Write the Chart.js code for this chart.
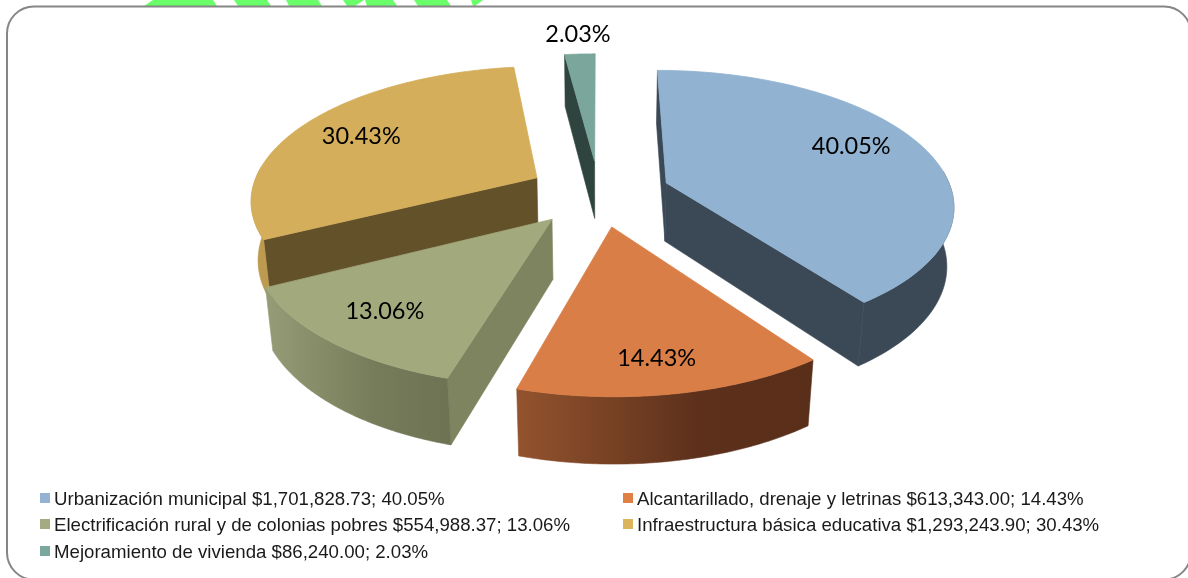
<!DOCTYPE html>
<html>
<head>
<meta charset="utf-8">
<style>
  html, body { margin: 0; padding: 0; background: #fff; }
  canvas { display: block; }
</style>
<script src="https://cdn.jsdelivr.net/npm/chart.js@4"></script>
</head>
<body>
<canvas id="pieChart" width="1188" height="578"></canvas>
<script>
// Data
const categories = [
  "Urbanización municipal",
  "Alcantarillado, drenaje y letrinas",
  "Electrificación rural y de colonias pobres",
  "Infraestructura básica educativa",
  "Mejoramiento de vivienda"
];
const amounts = [1701828.73, 613343.00, 554988.37, 1293243.90, 86240.00];
const amountLabels = ["$1,701,828.73", "$613,343.00", "$554,988.37", "$1,293,243.90", "$86,240.00"];
const percentLabels = ["40.05%", "14.43%", "13.06%", "30.43%", "2.03%"];

const topColors = ["#91b2d0", "#da7e48", "#a2a97d", "#d4ae5a", "#7aa69b"];
const cutColors = ["#3b4855", "#5a2f1a", "#7e8460", "#63512a", "#30443f"];
const rimStops = [
  [[0, "#3b4855"], [1, "#3b4855"]],
  [[0, "#93532e"], [0.62, "#5c301b"], [1, "#5a2f1a"]],
  [[0, "#969c76"], [0.6, "#767b5a"], [1, "#6e7354"]],
  [[0, "#bc9a4f"], [1, "#bc9a4f"]],
  [[0, "#30443f"], [1, "#30443f"]]
];
const legendColors = ["#94b3d2", "#df8044", "#a5ab80", "#dcb45c", "#7ba89d"];

// Perspective set-up of the 3D pie
const view = { cx: 599, cy: 193, rx: 286, ry: 132.5, depth: 60, persp: 0.152, sink: 0.02, explode: 0.25 };
const labelRadius = [0.77, 0.81, 0.765, 0.74, 1.23];
const labelTurn = [-5, 0, 0, 0, 1];
const paintOrder = [4, 3, 0, 2, 1];

function project(x, y, z) {
  const w = 1 - view.persp * y + view.sink * z;
  return [view.cx + view.rx * x / w, view.cy + (view.ry * y + view.depth * z) / w];
}

function fillPoly(ctx, pts, fill, edge) {
  ctx.beginPath();
  pts.forEach((p, i) => i ? ctx.lineTo(p[0], p[1]) : ctx.moveTo(p[0], p[1]));
  ctx.closePath();
  ctx.fillStyle = fill;
  ctx.fill();
  ctx.strokeStyle = fill;
  ctx.lineWidth = edge;
  ctx.stroke();
}

// Faces of one slice, from the angles Chart.js worked out for its arc
function drawSlice(ctx, arc, i) {
  const mid = (arc.startAngle + arc.endAngle) / 2;
  const ox = Math.cos(mid) * view.explode;
  const oy = Math.sin(mid) * view.explode;
  const steps = 90;
  const rimTop = [], wallTop = [], wallBottom = [];
  for (let s = 0; s <= steps; s++) {
    const a = arc.startAngle + (arc.endAngle - arc.startAngle) * s / steps;
    const t = project(ox + Math.cos(a), oy + Math.sin(a), 0);
    rimTop.push(t);
    // the back of the rim sits behind the top face, leave it out
    if (Math.sin(a) > -0.1) {
      wallTop.push(t);
      wallBottom.push(project(ox + Math.cos(a), oy + Math.sin(a), 1));
    }
  }
  const first = rimTop[0], last = rimTop[steps];
  const apexTop = project(ox, oy, 0);
  const apexBottom = project(ox, oy, 1);

  if (first[0] < apexTop[0]) {
    fillPoly(ctx, [apexTop, first, project(ox + Math.cos(arc.startAngle), oy + Math.sin(arc.startAngle), 1), apexBottom], cutColors[i], 0.6);
  }
  if (last[0] > apexTop[0] + 1) {
    fillPoly(ctx, [apexTop, last, project(ox + Math.cos(arc.endAngle), oy + Math.sin(arc.endAngle), 1), apexBottom], cutColors[i], 0.6);
  }

  if (wallTop.length > 1) {
    const xs = rimTop.map(p => p[0]);
    const grad = ctx.createLinearGradient(Math.min(...xs), 0, Math.max(...xs), 0);
    rimStops[i].forEach(st => grad.addColorStop(st[0], st[1]));
    fillPoly(ctx, wallTop.concat(wallBottom.slice().reverse()), grad, 0.6);
  }

  fillPoly(ctx, [apexTop].concat(rimTop), topColors[i], 0.8);
}

function drawSliceLabel(ctx, arc, i) {
  const mid = (arc.startAngle + arc.endAngle) / 2;
  const a = mid + labelTurn[i] * Math.PI / 180;
  const p = project(Math.cos(mid) * view.explode + Math.cos(a) * labelRadius[i],
                    Math.sin(mid) * view.explode + Math.sin(a) * labelRadius[i], 0);
  ctx.font = "23.5px Lato";
  ctx.fillStyle = "#000";
  ctx.textAlign = "center";
  ctx.textBaseline = "middle";
  ctx.fillText(percentLabels[i], p[0] - 4, p[1] + 1);
}

const pie3d = {
  id: "pie3d",
  beforeDatasetsDraw(chart) {
    const ctx = chart.ctx;
    const arcs = chart.getDatasetMeta(0).data;
    ctx.save();
    paintOrder.forEach(i => drawSlice(ctx, arcs[i], i));
    paintOrder.forEach(i => drawSliceLabel(ctx, arcs[i], i));
    ctx.restore();
    return false;
  }
};

// Green strip peeking out above the frame (top left, top right, bottom right, bottom left x)
const stripes = [
  [153, 213, 217, 144],
  [234, 267, 271, 238],
  [286, 318, 322, 289],
  [343, 364, 355, 347],
  [365, 393, 397, 367],
  [414, 447, 451, 418],
  [471, 483, 475, 473]
];
const backdrop = {
  id: "backdrop",
  beforeDraw(chart) {
    const ctx = chart.ctx;
    ctx.save();
    ctx.fillStyle = "#6aff6a";
    stripes.forEach(s => {
      ctx.beginPath();
      ctx.moveTo(s[0], 0);
      ctx.lineTo(s[1], 0);
      ctx.lineTo(s[2], 6);
      ctx.lineTo(s[3], 6);
      ctx.closePath();
      ctx.fill();
    });
    ctx.beginPath();
    ctx.roundRect(7, 6.5, 1184, 573, 27);
    ctx.fillStyle = "#fff";
    ctx.fill();
    ctx.strokeStyle = "#868686";
    ctx.lineWidth = 2;
    ctx.stroke();
    ctx.restore();
  }
};

// Two column legend at the bottom
const legendCols = [40, 623];
const legendRows = [500, 526, 553];
const legendSlots = [[0, 0], [1, 0], [0, 1], [1, 1], [0, 2]];
const legend2col = {
  id: "legend2col",
  afterDraw(chart) {
    const ctx = chart.ctx;
    ctx.save();
    ctx.font = "18.65px 'Liberation Sans'";
    ctx.textAlign = "left";
    ctx.textBaseline = "middle";
    categories.forEach((name, i) => {
      const x = legendCols[legendSlots[i][0]];
      const y = legendRows[legendSlots[i][1]];
      ctx.fillStyle = legendColors[i];
      ctx.fillRect(x, y - 7, 10, 10);
      ctx.fillStyle = "#1a1a1a";
      ctx.fillText(name + " " + amountLabels[i] + "; " + percentLabels[i], x + 14, y);
    });
    ctx.restore();
  }
};

new Chart(document.getElementById("pieChart"), {
  type: "pie",
  data: {
    labels: categories,
    datasets: [{ data: amounts, backgroundColor: topColors }]
  },
  options: {
    responsive: false,
    animation: false,
    rotation: 0,
    plugins: { legend: { display: false }, tooltip: { enabled: false } }
  },
  plugins: [backdrop, pie3d, legend2col]
});
</script>
</body>
</html>
